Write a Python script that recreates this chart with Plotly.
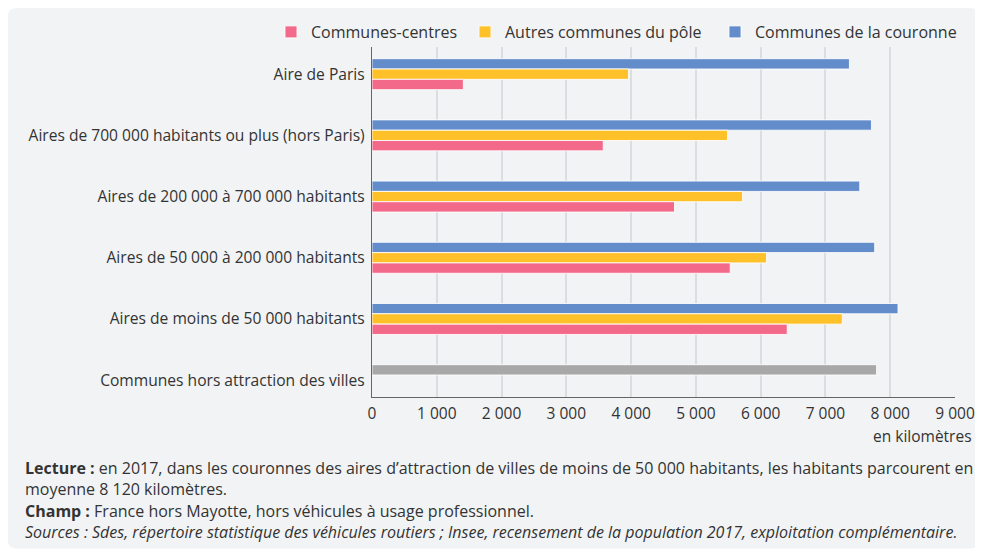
import plotly.graph_objects as go

categories = [
    "Aire de Paris",
    "Aires de 700 000 habitants ou plus (hors Paris)",
    "Aires de 200 000 à 700 000 habitants",
    "Aires de 50 000 à 200 000 habitants",
    "Aires de moins de 50 000 habitants",
]
hors_category = "Communes hors attraction des villes"

communes_centres = [1410, 3570, 4670, 5530, 6410]
autres_communes = [3960, 5490, 5720, 6090, 7260]
couronne = [7370, 7710, 7530, 7760, 8120]
hors_attraction = [7790]

x_ticks = [0, 1000, 2000, 3000, 4000, 5000, 6000, 7000, 8000, 9000]

# the page body adds an 8px margin: figure is sized so that it fills the rest
OFF = 8
W, H = 983 - OFF, 552 - OFF
L, T = 372 - OFF, 47 - OFF
PLOT_RIGHT, PLOT_BOTTOM = 954.6 - OFF, 397.3 - OFF
R, B = W - PLOT_RIGHT, H - PLOT_BOTTOM
PW = W - L - R
PH = H - T - B


def px2x(px):  # page pixel -> paper x
    return (px - OFF - L) / PW


def py2y(py):  # page pixel -> paper y
    return (PLOT_BOTTOM - (py - OFF)) / PH


def cx(px):  # page pixel -> container x
    return (px - OFF) / W


def cy(py):
    return 1 - (py - OFF) / H


FONT = "Open Sans"
TXT = "#333333"
PINK = "#f3698a"
YELLOW = "#ffc12a"
BLUE = "#638ccb"
GREY = "#a8a8a8"

fig = go.Figure()
line = dict(color="rgba(255,255,255,0.85)", width=1)
fig.add_trace(go.Bar(y=categories, x=couronne, orientation="h", name="Communes de la couronne",
                     marker=dict(color=BLUE, line=line), offsetgroup="r", legend="legend3"))
fig.add_trace(go.Bar(y=categories, x=autres_communes, orientation="h", name="Autres communes du pôle",
                     marker=dict(color=YELLOW, line=line), offsetgroup="a", legend="legend2"))
fig.add_trace(go.Bar(y=categories, x=communes_centres, orientation="h", name="Communes-centres",
                     marker=dict(color=PINK, line=line), offsetgroup="c", legend="legend"))
fig.add_trace(go.Bar(y=[hors_category], x=hors_attraction, orientation="h", name="hors",
                     marker=dict(color=GREY, line=line), offsetgroup="r", showlegend=False))

# rounded panel (page coords 8..978 x 8..549)
x0, x1 = px2x(8), px2x(978)
y0, y1 = py2y(8), py2y(549)
rx, ry = 9 / PW, 9 / PH
path = (f"M{x0+rx},{y0} L{x1-rx},{y0} Q{x1},{y0} {x1},{y0-ry} L{x1},{y1+ry} Q{x1},{y1} {x1-rx},{y1} "
        f"L{x0+rx},{y1} Q{x0},{y1} {x0},{y1+ry} L{x0},{y0-ry} Q{x0},{y0} {x0+rx},{y0} Z")
fig.add_shape(type="path", path=path, xref="paper", yref="paper", fillcolor="#f2f3f5",
              line=dict(width=0), layer="below")

notes = [
    (468, "<b>Lecture :</b> en 2017, dans les couronnes des aires d’attraction de villes de moins de 50 000 habitants, les habitants parcourent en"),
    (489, "moyenne 8 120 kilomètres."),
    (511, "<b>Champ :</b> France hors Mayotte, hors véhicules à usage professionnel."),
    (532, "<i>Sources : Sdes, répertoire statistique des véhicules routiers ; Insee, recensement de la population 2017, exploitation complémentaire.</i>"),
]
for py, t in notes:
    fig.add_annotation(x=px2x(23), y=py2y(py), xref="paper", yref="paper", text=t, showarrow=False,
                       xanchor="left", yanchor="middle", font=dict(family=FONT, size=16, color=TXT))

fig.add_annotation(x=px2x(974), y=py2y(436), xref="paper", yref="paper", text="en kilomètres",
                   showarrow=False, xanchor="right", yanchor="middle",
                   font=dict(family=FONT, size=15.5, color=TXT))


def leg(text_start):
    return dict(orientation="h", xref="container", yref="container",
                x=cx(text_start - 40), xanchor="left", y=cy(32), yanchor="middle",
                font=dict(family=FONT, size=16, color=TXT), bgcolor="rgba(0,0,0,0)")


fig.update_layout(
    width=W, height=H,
    margin=dict(l=L, r=R, t=T, b=B, autoexpand=False),
    paper_bgcolor="white", plot_bgcolor="rgba(0,0,0,0)",
    barmode="group", bargap=0.494, bargroupgap=0,
    separators=", ",
    font=dict(family=FONT, size=15.5, color=TXT),
    legend=leg(311), legend2=leg(505), legend3=leg(755),
    xaxis=dict(range=[0, 9000], tickvals=x_ticks, tickformat=",d", showgrid=True, automargin=False,
               gridcolor="#dcdde0", gridwidth=1.5, zeroline=False, showline=True,
               linecolor="#666666", linewidth=1.3, ticks="", ticklabelstandoff=2,
               tickfont=dict(size=15.5, color=TXT)),
    yaxis=dict(type="category", range=[5.275, -0.444], showgrid=False, zeroline=False, automargin=False,
               showline=True, linecolor="#666666", linewidth=1.3, ticks="outside", ticklen=3,
               tickcolor="rgba(0,0,0,0)", tickfont=dict(size=15.6, color=TXT)),
)

fig.write_html("out.html")
